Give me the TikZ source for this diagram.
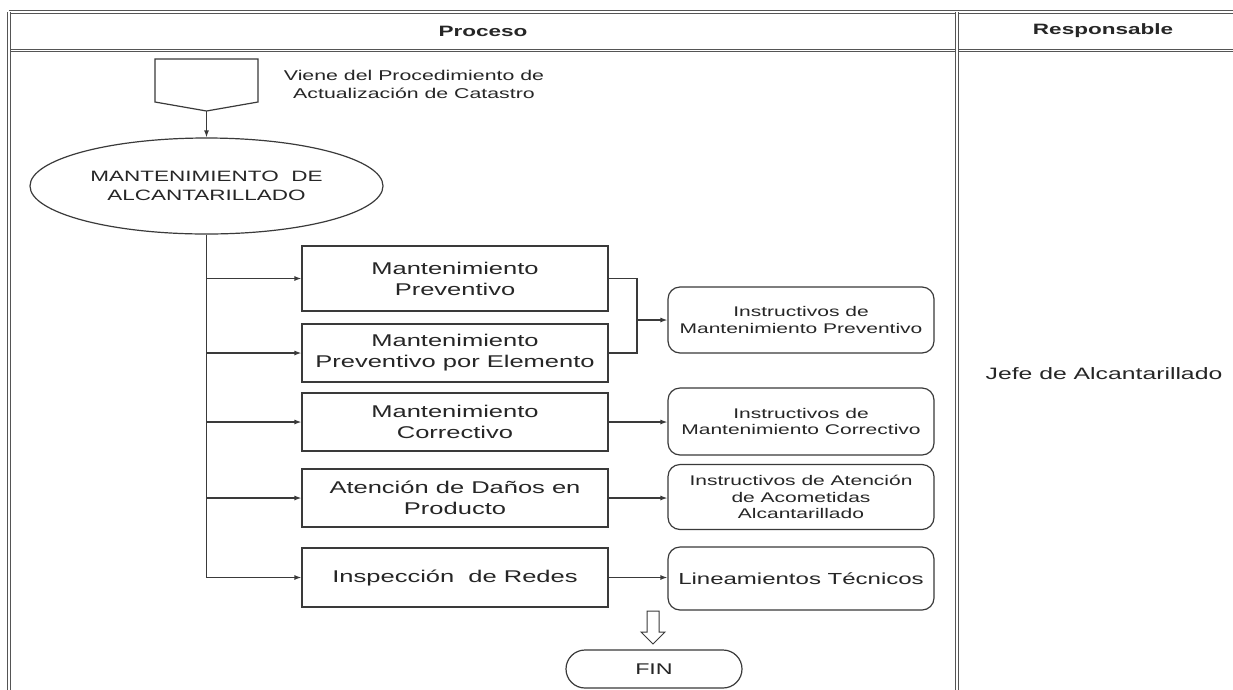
\documentclass[tikz,border=0pt]{standalone}
\usepackage{fontspec}
\setmainfont{Liberation Sans}
\newfontfamily\wf[FakeStretch=1.5]{Liberation Sans}
\usetikzlibrary{arrows.meta,shapes.geometric}
\definecolor{ln}{HTML}{3A3A3A}
\definecolor{tx}{HTML}{262626}
\definecolor{tb}{HTML}{555555}
\begin{document}
\begin{tikzpicture}[x=1pt,y=-1pt,
  every node/.style={text=tx},
  proc/.style={draw=ln, line width=1.2pt, minimum width=306pt, inner sep=0pt, align=center, font=\wf\fontsize{17}{21}\selectfont},
  instr/.style={draw=ln, line width=1.2pt, rounded corners=12pt, minimum width=266pt, inner sep=0pt, align=center, font=\wf\fontsize{14}{16.5}\selectfont},
  conn/.style={draw=ln, line width=1.2pt},
  arr/.style={conn, -{Latex[length=7pt,width=5pt]}},
  tbl/.style={draw=tb, double=white, double distance=1.6pt, line width=0.9pt}]
\useasboundingbox[fill=white] (0,0) rectangle (1233,689);

% table
\draw[tbl] (9,12) -- (1240,12);
\draw[tbl] (9,50.5) -- (1240,50.5);
\draw[tbl] (9,12) -- (9,700);
\draw[tbl] (957,12) -- (957,700);
\node[font=\wf\bfseries\fontsize{15}{18}\selectfont] (hp) at (483,31) {Proceso};
\node[font=\wf\bfseries\fontsize{15}{18}\selectfont] (hr) at (1103,31) {Responsable};
\node[font=\wf\fontsize{16.5}{20}\selectfont] (jefe) at (1104,374) {Jefe de Alcantarillado};

% off-page connector
\draw[conn] (155,59) -- (258,59) -- (258,102) -- (206.5,111) -- (155,102) -- cycle;
\coordinate (offp) at (206.5,111);
\node[font=\wf\fontsize{14.2}{18}\selectfont, align=center] (viene) at (414,84) {Viene del Procedimiento de\\Actualización de Catastro};

% ellipse
\node[ellipse, draw=ln, line width=1.2pt, minimum width=353pt, minimum height=96pt, inner sep=0pt, align=center, font=\wf\fontsize{15}{19}\selectfont] (ell) at (206.5,186) {MANTENIMIENTO~~DE\\ALCANTARILLADO};
\draw[arr] (offp) -- (ell.north);

% process boxes
\node[proc, minimum height=65pt] (b1) at (455,278.5) {Mantenimiento\\Preventivo};
\node[proc, minimum height=58pt] (b2) at (455,353) {Mantenimiento\\Preventivo por Elemento};
\node[proc, minimum height=58pt] (b3) at (455,422) {Mantenimiento\\Correctivo};
\node[proc, minimum height=58pt] (b4) at (455,498) {Atención de Daños en\\Producto};
\node[proc, minimum height=59pt] (b5) at (455,577.5) {Inspección~~de Redes};

% instruction boxes
\node[instr, minimum height=66pt] (r1) at (801,320) {Instructivos de\\Mantenimiento Preventivo};
\node[instr, minimum height=67pt] (r2) at (801,421.5) {Instructivos de\\Mantenimiento Correctivo};
\node[instr, minimum height=65pt] (r3) at (801,497) {Instructivos de Atención\\de Acometidas\\Alcantarillado};
\node[instr, minimum height=63pt, font=\wf\fontsize{16}{19}\selectfont] (r4) at (801,578.5) {Lineamientos Técnicos};

% trunk and branches
\draw[conn] (ell.south) -- (ell.south |- b5.west);
\foreach \b in {b1,b2,b3,b4,b5} \draw[arr] (ell.south |- \b.west) -- (\b.west);

% bracket
\coordinate (jn) at (637,320);
\draw[conn] (b1.east) -| (jn);
\draw[conn] (b2.east) -| (jn);
\draw[arr] (jn) -- (r1.west);

\draw[arr] (b3.east) -- (b3.east -| r2.west);
\draw[arr] (b4.east) -- (b4.east -| r3.west);
\draw[arr] (b5.east) -- (b5.east -| r4.west);

% hollow arrow and end
\draw[draw=ln, line width=1pt, fill=white] (647,611) -- (659,611) -- (659,632) -- (665,632) -- (653,644) -- (641,632) -- (647,632) -- cycle;
\node[draw=ln, line width=1.2pt, rounded corners=19pt, minimum width=176pt, minimum height=38pt, font=\wf\fontsize{15.5}{18}\selectfont] (fin) at (654,669) {FIN};
\end{tikzpicture}
\end{document}
